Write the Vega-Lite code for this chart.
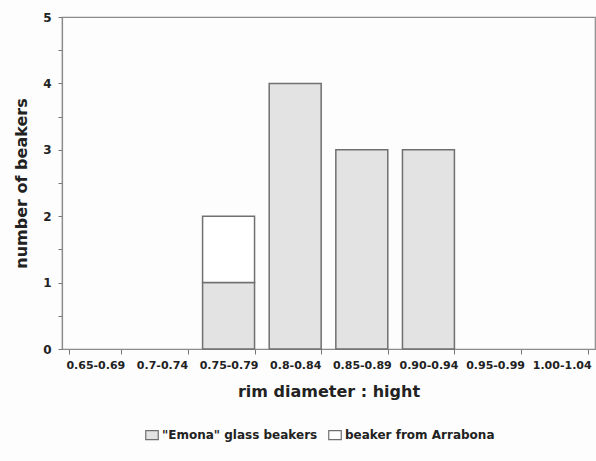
{
  "$schema": "https://vega.github.io/schema/vega-lite/v6.json",
  "autosize": {"type": "none"},
  "padding": {"left": 62, "top": 17, "right": 1, "bottom": 112},
  "width": 533,
  "height": 332,
  "background": "#fdfdfd",
  "config": {
    "view": {"stroke": "#8a8a8a", "strokeWidth": 1.2},
    "font": "DejaVu Sans"
  },
  "data": {
    "values": [
      {"ratio": "0.75-0.79", "group": "\"Emona\" glass beakers", "count": 1, "ord": 0},
      {"ratio": "0.75-0.79", "group": "beaker from Arrabona", "count": 1, "ord": 1},
      {"ratio": "0.8-0.84", "group": "\"Emona\" glass beakers", "count": 4, "ord": 0},
      {"ratio": "0.85-0.89", "group": "\"Emona\" glass beakers", "count": 3, "ord": 0},
      {"ratio": "0.90-0.94", "group": "\"Emona\" glass beakers", "count": 3, "ord": 0}
    ]
  },
  "mark": {"type": "bar", "stroke": "#707070", "strokeWidth": 1.5},
  "encoding": {
    "x": {
      "field": "ratio",
      "type": "nominal",
      "sort": null,
      "scale": {
        "domain": ["0.65-0.69", "0.7-0.74", "0.75-0.79", "0.8-0.84", "0.85-0.89", "0.90-0.94", "0.95-0.99", "1.00-1.04"],
        "paddingInner": 0.22,
        "paddingOuter": 0.11
      },
      "axis": {
        "title": "rim diameter : hight",
        "labelAngle": 0,
        "tickBand": "extent",
        "tickSize": 5,
        "tickColor": "#777",
        "domainColor": "#8a8a8a",
        "domainWidth": 1.2,
        "labelFontSize": 11,
        "labelFontWeight": "bold",
        "labelColor": "#222",
        "labelPadding": 5,
        "titleFontSize": 16,
        "titleFontWeight": "bold",
        "titleColor": "#222",
        "titlePadding": 13
      }
    },
    "y": {
      "field": "count",
      "type": "quantitative",
      "stack": "zero",
      "scale": {"domain": [0, 5], "nice": false},
      "axis": {
        "title": "number of beakers",
        "values": [0, 0.5, 1, 1.5, 2, 2.5, 3, 3.5, 4, 4.5, 5],
        "labelExpr": "datum.value % 1 == 0 ? format(datum.value, 'd') : ''",
        "grid": false,
        "tickSize": 4,
        "tickColor": "#777",
        "domainColor": "#8a8a8a",
        "domainWidth": 1.2,
        "labelFontSize": 12,
        "labelFontWeight": "bold",
        "labelColor": "#222",
        "labelPadding": 7,
        "titleFontSize": 16,
        "titleFontWeight": "bold",
        "titleColor": "#222",
        "titlePadding": 13
      }
    },
    "fill": {
      "field": "group",
      "type": "nominal",
      "scale": {
        "domain": ["\"Emona\" glass beakers", "beaker from Arrabona"],
        "range": ["#e3e3e3", "#ffffff"]
      },
      "legend": {
        "title": null,
        "orient": "none",
        "direction": "horizontal",
        "legendX": 84,
        "legendY": 412,
        "symbolType": "M-1.4,-1L1.4,-1L1.4,1L-1.4,1Z",
        "symbolSize": 80,
        "symbolStrokeColor": "#707070",
        "symbolStrokeWidth": 1.2,
        "labelFontSize": 12,
        "labelFontWeight": "bold",
        "labelColor": "#222",
        "columnPadding": 8,
        "symbolOffset": 0
      }
    },
    "order": {"field": "ord", "type": "quantitative"}
  }
}
